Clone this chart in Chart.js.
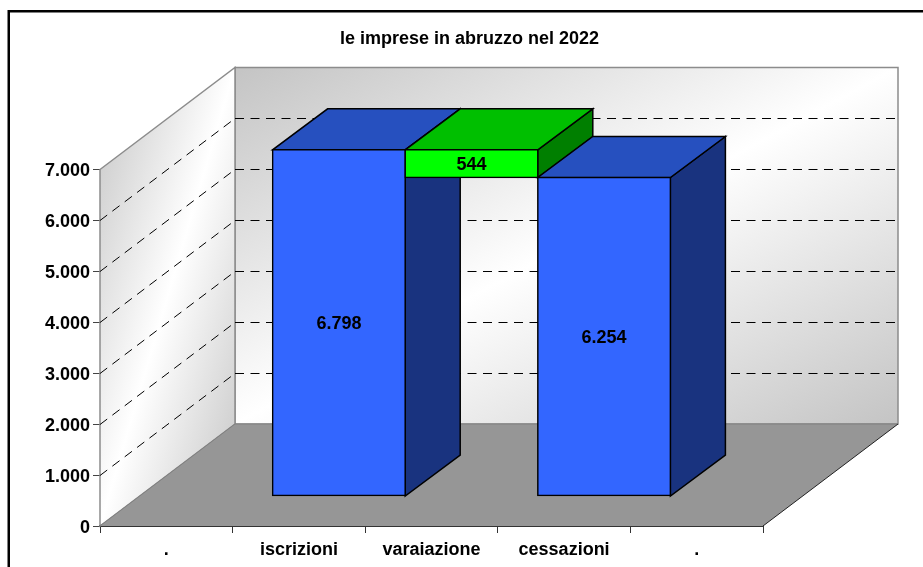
<!DOCTYPE html>
<html>
<head>
<meta charset="utf-8">
<title>le imprese in abruzzo nel 2022</title>
<script src="https://cdn.jsdelivr.net/npm/chart.js@4"></script>
<style>
	html, body { margin: 0; padding: 0; background: #fff; overflow: hidden; }
	canvas { display: block; }
</style>
</head>
<body>
<canvas id="mycanvas" width="923" height="567"></canvas>
<script>
var chartTitle = 'le imprese in abruzzo nel 2022';
var categories = ['.', 'iscrizioni', 'varaiazione', 'cessazioni', '.'];
var lowValues = [null, 0, 6254, 0, null];
var highValues = [null, 6798, 6798, 6254, null];
var tickValues = [0, 1000, 2000, 3000, 4000, 5000, 6000, 7000];
var tickLabels = ['0', '1.000', '2.000', '3.000', '4.000', '5.000', '6.000', '7.000'];

var frontColors = ['#3366ff', '#3366ff', '#00ff00', '#3366ff', '#3366ff'];
var topColors = ['#2650bf', '#2650bf', '#00bf00', '#2650bf', '#2650bf'];
var sideColors = ['#19337f', '#19337f', '#007f00', '#19337f', '#19337f'];

// depth of the box and of the bars, in pixels
var wallDx = 135, wallDy = 102;
var barDx = 40, barDy = 30;
var barDepthDx = 55, barDepthDy = 41;

var boldFont = 'bold 18px "Liberation Sans", Arial, sans-serif';

function formatValue(v) {
	return String(v).replace(/\B(?=(\d{3})+$)/g, '.');
}

function polygon(ctx, pts, fill, stroke, width) {
	ctx.beginPath();
	ctx.moveTo(pts[0][0], pts[0][1]);
	for (var i = 1; i < pts.length; i++) {
		ctx.lineTo(pts[i][0], pts[i][1]);
	}
	ctx.closePath();
	if (fill) {
		ctx.fillStyle = fill;
		ctx.fill();
	}
	if (stroke) {
		ctx.strokeStyle = stroke;
		ctx.lineWidth = width || 1;
		ctx.stroke();
	}
}

// grey - white - grey, with the white band running through the lower left
// and upper right corners of the box
function wallGradient(ctx, x0, y0, x1, y1) {
	var w = x1 - x0, h = y1 - y0;
	var cx = x0 + w / 2, cy = y0 + h / 2;
	var len = Math.sqrt(w * w + h * h);
	var nx = h / len, ny = w / len;
	var half = w * h / len;
	var g = ctx.createLinearGradient(cx - nx * half, cy - ny * half, cx + nx * half, cy + ny * half);
	g.addColorStop(0, '#c4c4c4');
	g.addColorStop(0.5, '#ffffff');
	g.addColorStop(1, '#c4c4c4');
	return g;
}

var box3d = {
	id: 'box3d',
	beforeDraw: function(chart) {
		var ctx = chart.ctx;
		ctx.save();
		ctx.fillStyle = '#fff';
		ctx.fillRect(0, 0, chart.width, chart.height);
		// outer frame, runs off the right and bottom edges
		ctx.strokeStyle = '#000';
		ctx.lineWidth = 2.5;
		ctx.strokeRect(8.75, 11.25, 1000, 1000);
		ctx.fillStyle = '#000';
		ctx.font = boldFont;
		ctx.textAlign = 'center';
		ctx.textBaseline = 'middle';
		ctx.fillText(chartTitle, 469.5, 39.5);
		ctx.restore();
	},
	beforeDatasetsDraw: function(chart) {
		var ctx = chart.ctx;
		var x = chart.scales.x, y = chart.scales.y;
		var left = x.left, right = x.right;
		var y0 = y.getPixelForValue(tickValues[0]);
		var yMax = y.getPixelForValue(tickValues[tickValues.length - 1]);

		ctx.save();
		// back wall
		polygon(ctx, [[left + wallDx, yMax - wallDy], [right + wallDx, yMax - wallDy], [right + wallDx, y0 - wallDy], [left + wallDx, y0 - wallDy]],
			wallGradient(ctx, left + wallDx, yMax - wallDy, right + wallDx, y0 - wallDy), '#8c8c8c', 1.5);
		// side wall
		polygon(ctx, [[left, yMax], [left + wallDx, yMax - wallDy], [left + wallDx, y0 - wallDy], [left, y0]],
			wallGradient(ctx, left, yMax - wallDy, left + wallDx, y0), '#8c8c8c', 1.5);
		// floor
		polygon(ctx, [[left, y0], [left + wallDx, y0 - wallDy], [right + wallDx, y0 - wallDy], [right, y0]], '#969696', null);
		ctx.strokeStyle = '#808080';
		ctx.lineWidth = 1;
		ctx.beginPath();
		ctx.moveTo(left, y0);
		ctx.lineTo(left + wallDx, y0 - wallDy);
		ctx.lineTo(right + wallDx, y0 - wallDy);
		ctx.stroke();
		ctx.strokeStyle = '#222';
		ctx.beginPath();
		ctx.moveTo(right, y0);
		ctx.lineTo(right + wallDx, y0 - wallDy);
		ctx.stroke();

		// dashed grid on both walls
		ctx.strokeStyle = '#000';
		ctx.lineWidth = 1;
		ctx.setLineDash([9, 6.5]);
		for (var i = 1; i < tickValues.length - 1; i++) {
			var py = Math.round(y.getPixelForValue(tickValues[i])) + 0.5;
			ctx.beginPath();
			ctx.moveTo(left, py);
			ctx.lineTo(left + wallDx, py - wallDy);
			ctx.stroke();
			ctx.beginPath();
			ctx.moveTo(left + wallDx, py - wallDy);
			ctx.lineTo(right + wallDx, py - wallDy);
			ctx.stroke();
		}
		ctx.setLineDash([]);

		// top and side of each bar, the front comes from the bar element
		var bars = chart.getDatasetMeta(0).data;
		for (var b = 0; b < bars.length; b++) {
			if (highValues[b] === null) continue;
			var xl = bars[b].x - bars[b].width / 2 + barDx;
			var xr = bars[b].x + bars[b].width / 2 + barDx;
			var yt = y.getPixelForValue(highValues[b]) - barDy;
			var yb = y.getPixelForValue(lowValues[b]) - barDy;
			polygon(ctx, [[xr, yt], [xr + barDepthDx, yt - barDepthDy], [xr + barDepthDx, yb - barDepthDy], [xr, yb]], sideColors[b], '#000', 1.5);
			polygon(ctx, [[xl, yt], [xr, yt], [xr + barDepthDx, yt - barDepthDy], [xl + barDepthDx, yt - barDepthDy]], topColors[b], '#000', 1.5);
		}
		ctx.restore();
	},
	beforeDatasetDraw: function(chart) {
		chart.ctx.save();
		chart.ctx.translate(barDx, -barDy);
	},
	afterDatasetDraw: function(chart) {
		chart.ctx.restore();
	},
	afterDatasetsDraw: function(chart) {
		var ctx = chart.ctx;
		var y = chart.scales.y;
		var bars = chart.getDatasetMeta(0).data;
		ctx.save();
		ctx.fillStyle = '#000';
		ctx.font = boldFont;
		ctx.textAlign = 'center';
		ctx.textBaseline = 'middle';
		for (var b = 0; b < bars.length; b++) {
			if (highValues[b] === null) continue;
			var mid = y.getPixelForValue((highValues[b] + lowValues[b]) / 2) - barDy;
			ctx.fillText(formatValue(highValues[b] - lowValues[b]), bars[b].x + barDx, mid + 1);
		}
		ctx.restore();
	}
};

var barData = categories.map(function(c, i) {
	return highValues[i] === null ? null : [lowValues[i], highValues[i]];
});

var barGraph = new Chart(document.getElementById('mycanvas'), {
	type: 'bar',
	data: {
		labels: categories,
		datasets: [{
			label: chartTitle,
			data: barData,
			backgroundColor: frontColors,
			borderColor: '#000',
			borderWidth: 1.5,
			borderSkipped: false,
			inflateAmount: 0.75,
			barPercentage: 1,
			categoryPercentage: 1,
			clip: false
		}]
	},
	options: {
		responsive: false,
		animation: false,
		layout: {
			autoPadding: false,
			padding: { left: 40, right: 160, top: 169.5, bottom: 0 }
		},
		plugins: {
			legend: { display: false },
			title: { display: false },
			tooltip: { enabled: false }
		},
		scales: {
			x: {
				afterFit: function(scale) { scale.height = 41; },
				grid: { offset: true, drawOnChartArea: false, color: '#333', tickLength: 7, tickColor: '#333' },
				border: { color: '#333', width: 2 },
				ticks: {
					color: '#000',
					padding: 6,
					maxRotation: 0,
					font: { family: '"Liberation Sans", Arial, sans-serif', size: 18, weight: 'bold' }
				}
			},
			y: {
				min: 0,
				max: 7000,
				afterFit: function(scale) { scale.width = 60; },
				afterBuildTicks: function(scale) {
					scale.ticks = tickValues.map(function(v) { return { value: v }; });
				},
				grid: { drawOnChartArea: false, color: '#444', tickLength: 7 },
				border: { color: '#222', width: 1 },
				ticks: {
					color: '#000',
					padding: 3,
					labelOffset: 2,
					font: { family: '"Liberation Sans", Arial, sans-serif', size: 18, weight: 'bold' },
					callback: function(value) {
						return tickLabels[tickValues.indexOf(value)];
					}
				}
			}
		}
	},
	plugins: [box3d]
});
</script>
</body>
</html>
